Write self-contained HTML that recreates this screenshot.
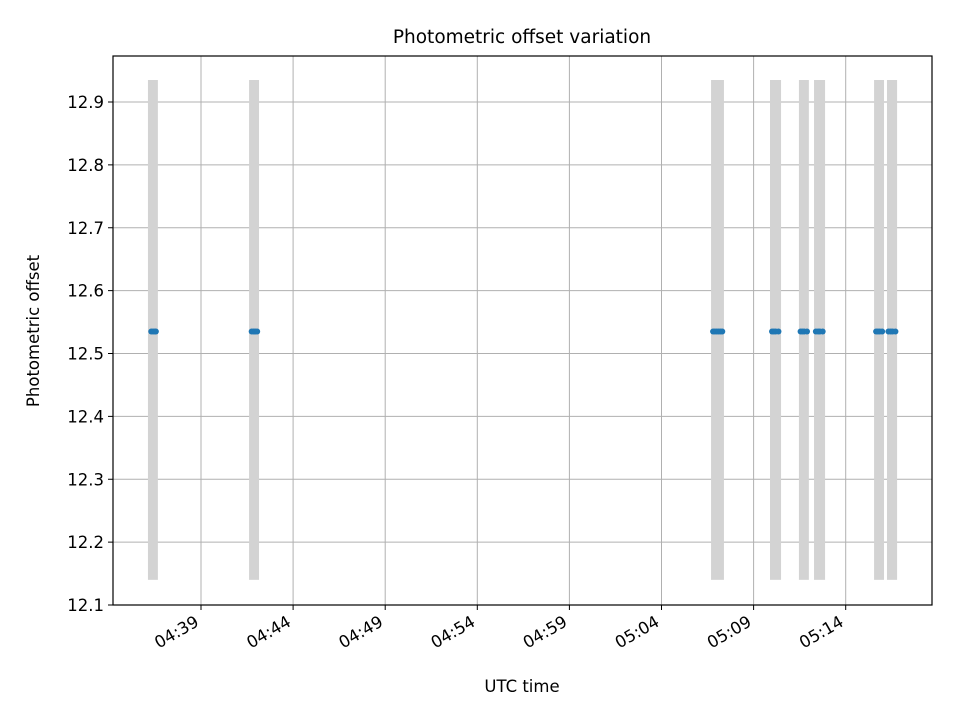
<!DOCTYPE html>
<html><head><meta charset="utf-8"><style>
body{margin:0;background:#fff;font-family:"Liberation Sans","DejaVu Sans",sans-serif}
svg text{font-family:"DejaVu Sans","Liberation Sans",sans-serif}
</style></head><body>
<svg id="chart" width="960" height="720" xmlns="http://www.w3.org/2000/svg">
<rect width="960" height="720" fill="#fff"/>
<g id="grid"></g><g id="bars"></g><g id="pts"></g><g id="axes"></g>
<text x="522" y="43" text-anchor="middle" font-size="18.5">Photometric offset variation</text>
<text x="522" y="692" text-anchor="middle" font-size="16.5">UTC time</text>
<text transform="translate(39,331) rotate(-90)" text-anchor="middle" font-size="16.5">Photometric offset</text>
</svg>
<script>
// minutes since 04:39
const windowStarts=[-2.88,2.61,27.69,30.89,32.46,33.28,36.54,37.24];
const windowEnds=[-2.34,3.15,28.39,31.49,33.0,33.88,37.08,37.79];
const barLow=12.14, barHigh=12.935;
const pointTimes=[-2.7,-2.6,-2.5,-2.45,2.75,2.85,2.95,3.05,27.8,27.9,28.0,28.1,28.2,28.3,31.0,31.1,31.2,31.35,32.55,32.65,32.75,32.9,33.38,33.5,33.6,33.75,36.65,36.75,36.85,36.98,37.32,37.45,37.55,37.7];
const pointValues=[12.535,12.535,12.535,12.535,12.535,12.535,12.535,12.535,12.535,12.535,12.535,12.535,12.535,12.535,12.535,12.535,12.535,12.535,12.535,12.535,12.535,12.535,12.535,12.535,12.535,12.535,12.535,12.535,12.535,12.535,12.535,12.535,12.535,12.535];
const xTickVals=[0,5,10,15,20,25,30,35];
const xTickLabels=["04:39","04:44","04:49","04:54","04:59","05:04","05:09","05:14"];
const yTickVals=[12.1,12.2,12.3,12.4,12.5,12.6,12.7,12.8,12.9];
const L=113,R=932,T=56,B=605;
const xs=t=>201+t*18.42;
const ys=v=>605-(v-12.1)*628.75;
const NS="http://www.w3.org/2000/svg";
function mk(tag,attrs,parent){const e=document.createElementNS(NS,tag);for(const k in attrs)e.setAttribute(k,attrs[k]);document.getElementById(parent).appendChild(e);return e;}
xTickVals.forEach((t,i)=>{
 const x=xs(t);
 const g=mk('line',{x1:x,x2:x,y1:T,y2:B,stroke:'#b0b0b0','stroke-width':1},'grid');
 
 
 const tk=mk('line',{x1:x,x2:x,y1:B,y2:B+5,stroke:'#000','stroke-width':1},'axes');
 
 
 const ax=x-1, ay=B+20;
 const tx=mk('text',{x:ax,y:ay,'text-anchor':'end','font-size':16.5,transform:`rotate(-30 ${ax} ${ay})`},'axes');
 tx.textContent=xTickLabels[i];
 
 
});
yTickVals.forEach(v=>{
 const y=ys(v);
 const g=mk('line',{x1:L,x2:R,y1:y,y2:y,stroke:'#b0b0b0','stroke-width':1},'grid');
 
 
 const tk=mk('line',{x1:L-5,x2:L,y1:y,y2:y,stroke:'#000','stroke-width':1},'axes');
 
 
 const tx=mk('text',{x:L-9,y:y+6,'text-anchor':'end','font-size':16.5},'axes');
 tx.textContent=v.toFixed(1);
 
 
});
windowStarts.forEach((s,i)=>{
 const r=mk('rect',{x:xs(s),y:ys(barHigh),width:xs(windowEnds[i])-xs(s),height:ys(barLow)-ys(barHigh),fill:'#d3d3d3'},'bars');
 
 
});
pointTimes.forEach((t,i)=>{
 const c=mk('circle',{cx:xs(t),cy:ys(pointValues[i]),r:3,fill:'#1f77b4'},'pts');
 
 
});
const fr=mk('rect',{x:L,y:T,width:R-L,height:B-T,fill:'none',stroke:'#000','stroke-width':1.2},'axes');


</script>
</body></html>
